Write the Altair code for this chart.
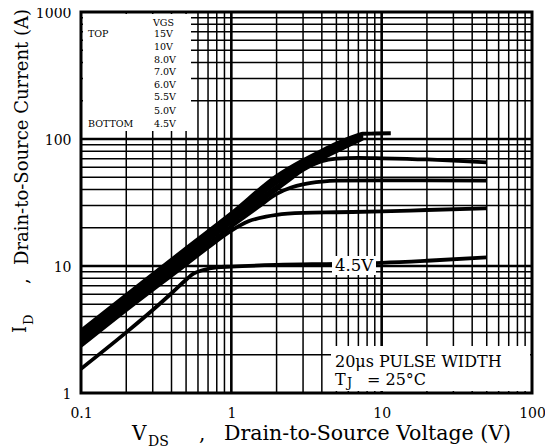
import altair as alt
import pandas as pd

# ---------------- data ----------------
vgs_names = ["15V", "10V", "8.0V", "7.0V", "6.0V", "5.5V", "5.0V", "4.5V"]

vds_15 = [0.1, 0.2, 0.5, 1, 2, 3, 4, 5, 6, 7, 7.5, 9, 11.5]
id_15 = [3.1, 5.9, 13.8, 26, 51, 68, 81, 92, 101, 108, 110, 110.5, 111]

vds_10 = [0.1, 0.2, 0.5, 1, 2, 3, 4, 5, 6, 7, 7.5]
id_10 = [2.95, 5.6, 13.2, 25, 48, 64, 77, 88, 97, 104, 107]

vds_8 = [0.1, 0.2, 0.5, 1, 2, 3, 4, 5, 6, 7, 7.5]
id_8 = [2.8, 5.35, 12.6, 24, 45, 61, 73, 84, 93, 100, 104]

vds_7 = [0.1, 0.2, 0.5, 1, 2, 3, 4, 5, 6, 7, 7.5]
id_7 = [2.7, 5.1, 12.1, 23, 42, 58, 70, 80, 89, 97, 101]

vds_6 = [0.1, 0.2, 0.5, 1, 1.5, 2, 2.5, 3, 3.5, 4, 5, 7, 10, 20, 35, 50]
id_6 = [2.6, 4.95, 11.6, 22, 31, 40, 49, 57, 63, 67, 70, 71, 70.5, 69, 67, 65.5]

vds_55 = [0.1, 0.2, 0.5, 1, 1.5, 2, 2.5, 3, 4, 5, 10, 20, 50]
id_55 = [2.48, 4.7, 11, 20.5, 29, 37, 41.5, 44, 46.2, 47, 47.3, 47.2, 47]

vds_5 = [0.1, 0.2, 0.5, 0.7, 1, 1.3, 1.7, 2, 3, 5, 10, 20, 50]
id_5 = [2.35, 4.5, 10.3, 14, 19, 22.5, 24.5, 25.3, 26.2, 26.5, 26.9, 27.6, 28.5]

vds_45 = [0.1, 0.2, 0.3, 0.4, 0.5, 0.56, 0.65, 0.8, 1, 2, 5, 10, 20, 50]
id_45 = [1.55, 3.0, 4.5, 6.1, 7.8, 8.7, 9.3, 9.75, 9.9, 10.2, 10.4, 10.6, 11.0, 11.7]

x_ticks = [0.1, 1, 10, 100]
y_ticks = [1, 10, 100, 1000]
x_minor = [0.2, 0.3, 0.4, 0.5, 0.6, 0.7, 0.8, 0.9,
           2, 3, 4, 5, 6, 7, 8, 9,
           20, 30, 40, 50, 60, 70, 80, 90]
x_major = [1, 10]
y_minor = [2, 3, 4, 5, 6, 7, 8, 9,
           20, 30, 40, 50, 60, 70, 80, 90,
           200, 300, 400, 500, 600, 700, 800, 900]
y_major = [10, 100]

series = [(vds_15, id_15), (vds_10, id_10), (vds_8, id_8), (vds_7, id_7),
          (vds_6, id_6), (vds_55, id_55), (vds_5, id_5), (vds_45, id_45)]

rows = []
for name, (xs, ys) in zip(vgs_names, series):
    for i, (a, b) in enumerate(zip(xs, ys)):
        rows.append({"vgs": name, "vds": a, "id": b, "o": i})
df = pd.DataFrame(rows)

W, H = 451, 381
FONT = "DejaVu Serif"

xscale = alt.Scale(type="log", domain=[0.1, 100], nice=False)
yscale = alt.Scale(type="log", domain=[1, 1000], nice=False)

xaxis = alt.Axis(values=x_ticks, format=".1~f", grid=False, ticks=False,
                 tickSize=0, domain=False, labelFont=FONT, labelFontSize=14,
                 labelColor="black", labelPadding=13, labelFlush=False, title=None)
yaxis = alt.Axis(values=y_ticks, format="d", grid=False, ticks=False,
                 tickSize=0, domain=False, labelFont=FONT, labelFontSize=14,
                 labelColor="black", labelPadding=10, labelFlush=False,
                 labelOffset=1.5, title=None)

# ---------------- grid ----------------
def vrules(vals, width):
    return alt.Chart(pd.DataFrame({"v": vals})).mark_rule(
        color="black", strokeWidth=width).encode(
        x=alt.X("v:Q", scale=xscale, axis=xaxis, title=None))

def hrules(vals, width):
    return alt.Chart(pd.DataFrame({"v": vals})).mark_rule(
        color="black", strokeWidth=width).encode(
        y=alt.Y("v:Q", scale=yscale, axis=yaxis, title=None))

grid = [vrules(x_minor, 1.5), hrules(y_minor, 1.5),
        vrules(x_major, 2.6), hrules(y_major, 2.6)]

# ---------------- curves ----------------
lines = alt.Chart(df).mark_line(
    color="black", strokeWidth=3.8, interpolate="monotone", clip=True
).encode(
    x=alt.X("vds:Q", scale=xscale, axis=xaxis, title=None),
    y=alt.Y("id:Q", scale=yscale, axis=yaxis, title=None),
    detail="vgs:N",
    order="o:Q",
)

one = pd.DataFrame({"k": [0]})

def box(x1, x2, y1, y2, fill="white", stroke=None, sw=0):
    kw = dict(fill=fill)
    if stroke:
        kw.update(stroke=stroke, strokeWidth=sw, fillOpacity=0)
    return alt.Chart(one).mark_rect(**kw).encode(
        x=alt.value(x1), x2=alt.value(x2), y=alt.value(y1), y2=alt.value(y2))

boxes = [box(2, 110, 2, 119), box(250, 449, 334, 379), box(251, 295, 244, 263)]
frame = box(0, W, 0, H, fill="white", stroke="black", sw=3)

def txt(s, x, y, size, align="left", baseline="alphabetic", angle=0):
    kw = dict(text=s, font=FONT, fontSize=size, color="black",
              align=align, baseline=baseline)
    if angle:
        kw["angle"] = angle
    return alt.Chart(one).mark_text(**kw).encode(x=alt.value(x), y=alt.value(y))

texts = []
# legend block
LS = 9.5
texts.append(txt("VGS", 72, 10.5, LS, baseline="middle"))
texts.append(txt("TOP", 7, 22.3, LS, baseline="middle"))
texts.append(txt("BOTTOM", 7, 112, LS, baseline="middle"))
leg_y = [22.3, 35.3, 48, 60, 72.5, 85.3, 98.5, 112]
for name, yy in zip(vgs_names, leg_y):
    texts.append(txt(name, 73, yy, LS, baseline="middle"))
# curve label
texts.append(txt("4.5V", 273, 253.5, 16.5, align="center", baseline="middle"))
# conditions
texts.append(txt("20\u03bcs PULSE WIDTH", 254, 355, 16))
texts.append(txt("T", 254, 373, 16))
texts.append(txt("J", 266, 375, 13))
texts.append(txt("= 25\u00b0C", 286, 373, 16))
# x-axis title
texts.append(txt("V", 51, 428, 20))
texts.append(txt("DS", 67, 434, 14))
texts.append(txt(",", 118, 428, 20))
texts.append(txt("Drain-to-Source Voltage (V)", 143, 428, 20.5))
# y-axis title
texts.append(txt("Drain-to-Source Current (A)", -53, 253, 18, angle=270))
texts.append(txt(",", -53, 272, 18, angle=270))
texts.append(txt("I", -55, 321, 18, angle=270))
texts.append(txt("D", -48, 313, 13, angle=270))

chart = alt.layer(*grid, lines, *boxes, frame, *texts).properties(
    width=W, height=H,
    autosize=alt.AutoSizeParams(type="none"),
    padding={"left": 73, "top": 4, "right": 13, "bottom": 55},
).configure_view(stroke="black", strokeWidth=3).configure(background="white")

chart.save("out.html", embed_options={"renderer": "svg", "actions": False})
